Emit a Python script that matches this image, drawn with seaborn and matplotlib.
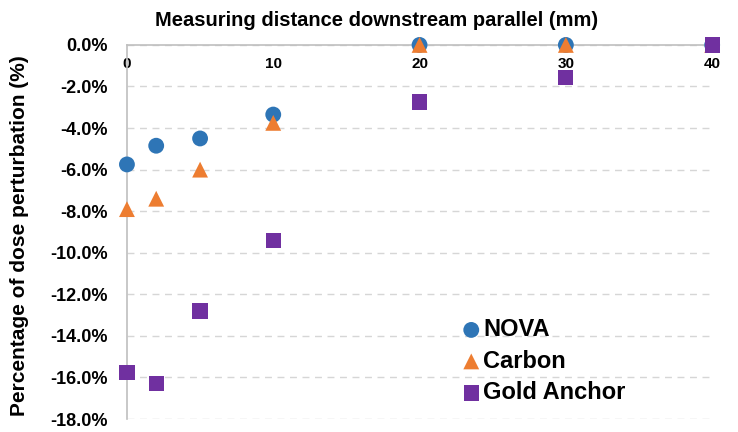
import matplotlib
matplotlib.use("Agg")
import matplotlib.pyplot as plt
import seaborn as sns
import pandas as pd

# ---- data ----
distance = [0, 2, 5, 10, 20, 30, 40]
nova = [-5.75, -4.85, -4.5, -3.35, 0.0, 0.0, 0.0]
carbon = [-7.9, -7.4, -6.0, -3.75, 0.0, 0.0, 0.0]
gold_anchor = [-15.75, -16.3, -12.8, -9.4, -2.75, -1.55, 0.0]
series_names = ["NOVA", "Carbon", "Gold Anchor"]
x_ticks = [0, 10, 20, 30, 40]
y_ticks = [0, -2, -4, -6, -8, -10, -12, -14, -16, -18]
y_tick_labels = ["0.0%", "-2.0%", "-4.0%", "-6.0%", "-8.0%", "-10.0%",
                 "-12.0%", "-14.0%", "-16.0%", "-18.0%"]

df = pd.DataFrame({
    "distance": distance * 3,
    "value": nova + carbon + gold_anchor,
    "series": [series_names[0]] * len(distance) + [series_names[1]] * len(distance)
              + [series_names[2]] * len(distance),
})

sns.set_theme(style="white")
plt.rcParams["font.family"] = ["Liberation Sans", "DejaVu Sans"]
plt.rcParams["text.color"] = "black"
plt.rcParams["axes.labelcolor"] = "black"
plt.rcParams["xtick.color"] = "black"
plt.rcParams["ytick.color"] = "black"

fig = plt.figure(figsize=(7.38, 4.32), dpi=100)
ax = fig.add_axes([0.172, 0.030, 0.793, 0.866])

palette = {"NOVA": "#2E75B6", "Carbon": "#ED7D31", "Gold Anchor": "#7030A0"}
markers = {"NOVA": "o", "Carbon": "^", "Gold Anchor": "s"}
sizes = {"NOVA": 130, "Carbon": 130, "Gold Anchor": 120}

for name in series_names:
    sub = df[df["series"] == name]
    sns.scatterplot(data=sub, x="distance", y="value", color=palette[name],
                    marker=markers[name], s=sizes[name], edgecolor="none",
                    label=name, ax=ax, clip_on=False, zorder=3)

ax.set_xlim(0, 40)
ax.set_ylim(-18, 0)
ax.set_yticks(y_ticks)
ax.set_yticklabels(y_tick_labels, fontsize=13, fontweight="bold")
ax.set_xticks(x_ticks)
ax.xaxis.tick_top()
ax.xaxis.set_label_position("top")
ax.set_xticklabels([str(t) for t in x_ticks], fontsize=11, fontweight="bold")
ax.tick_params(axis="x", length=0, pad=-19)
ax.tick_params(axis="y", length=0, pad=14)

ax.set_xlabel("Measuring distance downstream parallel (mm)", fontsize=14.5,
              fontweight="bold")
ax.xaxis.set_label_coords(0.426, 1.05)
ax.set_ylabel("Percentage of dose perturbation (%)", fontsize=15,
              fontweight="bold")
ax.yaxis.set_label_coords(-0.168, 0.49)

ax.yaxis.grid(True, linestyle=(0, (5, 4)), color="#D6D6D6", linewidth=1)
ax.xaxis.grid(False)
for side in ["bottom", "right"]:
    ax.spines[side].set_visible(False)
for side in ["top", "left"]:
    ax.spines[side].set_color("#BFBFBF")
    ax.spines[side].set_linewidth(1.2)

leg = ax.legend(loc="upper left", bbox_to_anchor=(0.548, 0.295), frameon=False,
                prop={"size": 17, "weight": "bold"}, handletextpad=-0.1,
                labelspacing=0.36, borderaxespad=0, handlelength=1.2)

fig.savefig("out.png", dpi=100)
